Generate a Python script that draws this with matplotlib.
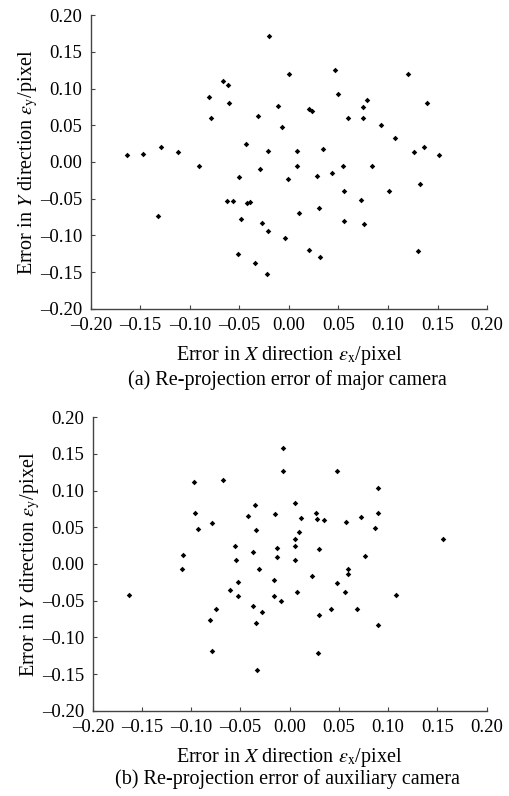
import matplotlib
matplotlib.use("Agg")
import matplotlib.pyplot as plt
from matplotlib.ticker import FuncFormatter, MultipleLocator

plt.rcParams['font.family'] = ['Liberation Serif', 'DejaVu Serif']
plt.rcParams['mathtext.fontset'] = 'stix'

# (a) major camera re-projection error
major_x = [-0.163, -0.147, -0.129, -0.112, -0.091, -0.081, -0.079, -0.067, -0.061, -0.060,
           -0.043, -0.031, -0.029, -0.021, -0.020, -0.011, -0.007, 0.000, 0.047, 0.0495,
           0.020, 0.023, 0.060, 0.075, 0.079, 0.075, 0.093, 0.107, 0.120, 0.139,
           0.008, 0.034, 0.126, 0.136, 0.151, 0.008, 0.055, 0.084, -0.001, 0.028,
           0.0435, 0.132, 0.056, 0.101, 0.0726, 0.010, 0.030, 0.056, 0.076, -0.004,
           0.020, 0.031, 0.130, -0.132, -0.050, -0.062, -0.056, -0.0425, -0.039, -0.048,
           -0.027, -0.021, -0.051, -0.034, -0.022]
major_y = [0.010, 0.011, 0.021, 0.013, -0.005, 0.089, 0.060, 0.110, 0.105, 0.080,
           0.025, 0.062, -0.009, 0.015, 0.171, 0.076, 0.047, 0.120, 0.125, 0.093,
           0.072, 0.069, 0.060, 0.075, 0.085, 0.060, 0.051, 0.032, 0.120, 0.080,
           0.015, 0.018, 0.013, 0.020, 0.010, -0.005, -0.005, -0.005, -0.023, -0.019,
           -0.0145, -0.030, -0.040, -0.040, -0.052, -0.070, -0.063, -0.080, -0.085, -0.104,
           -0.120, -0.130, -0.121, -0.073, -0.020, -0.053, -0.053, -0.056, -0.055, -0.078,
           -0.083, -0.094, -0.125, -0.138, -0.152]

# (b) auxiliary camera re-projection error
aux_x = [-0.097, -0.0675, -0.096, -0.093, -0.079, -0.108, -0.035, -0.042, -0.034, -0.056,
         -0.037, -0.0546, -0.0147, -0.0124, -0.0124, -0.0066, -0.0066, 0.048, 0.0895, 0.0056,
         0.012, 0.027, 0.0276, 0.035, 0.057, 0.072, 0.0895, 0.087, 0.156, 0.0093,
         0.0056, 0.0056, 0.030, 0.0056, 0.077, 0.0597, 0.0597, -0.0157, 0.0228, 0.048,
         -0.0157, -0.0093, 0.0079, 0.0563, 0.108, 0.042, 0.068, 0.0296, 0.0895, 0.0286,
         -0.109, -0.163, -0.0307, -0.0526, -0.061, -0.0526, -0.075, -0.0814, -0.037, -0.0286,
         -0.034, -0.0787, -0.033]
aux_y = [0.112, 0.1145, 0.070, 0.048, 0.0555, 0.012, 0.080, 0.065, 0.046, 0.025,
         0.0165, 0.006, 0.068, 0.022, 0.0098, 0.158, 0.126, 0.126, 0.104, 0.083,
         0.062, 0.069, 0.061, 0.0595, 0.0565, 0.0646, 0.0696, 0.049, 0.034, 0.043,
         0.034, 0.025, 0.021, 0.006, 0.0106, -0.0065, -0.0139, -0.022, -0.016, -0.0256,
         -0.044, -0.051, -0.038, -0.038, -0.042, -0.062, -0.062, -0.070, -0.0836, -0.121,
         -0.007, -0.042, -0.007, -0.024, -0.035, -0.044, -0.061, -0.076, -0.057, -0.0655,
         -0.081, -0.119, -0.144]

captions = ["(a) Re-projection error of major camera",
            "(b) Re-projection error of auxiliary camera"]


def fmt(v, pos):
    s = f"{abs(v):.2f}"
    return "\u2013" + s if v < -1e-9 else s


fig = plt.figure(figsize=(5.10, 7.96), dpi=100)
ax1 = fig.add_axes([0.178, 0.612, 0.777, 0.369])
ax2 = fig.add_axes([0.182, 0.107, 0.772, 0.369])

for ax, xs, ys, cap, cap_y in [(ax1, major_x, major_y, captions[0], 0.522),
                               (ax2, aux_x, aux_y, captions[1], 0.021)]:
    ax.scatter(xs, ys, marker='D', s=8, color='black', linewidths=0)
    ax.set_xlim(-0.2, 0.2)
    ax.set_ylim(-0.2, 0.2)
    ax.xaxis.set_major_locator(MultipleLocator(0.05))
    ax.yaxis.set_major_locator(MultipleLocator(0.05))
    ax.xaxis.set_major_formatter(FuncFormatter(fmt))
    ax.yaxis.set_major_formatter(FuncFormatter(fmt))
    for side in ['top', 'right']:
        ax.spines[side].set_visible(False)
    for side in ['left', 'bottom']:
        ax.spines[side].set_color('#444444')
        ax.spines[side].set_linewidth(1.0)
    ax.tick_params(direction='in', length=3, color='#444444', labelsize=13.5)
    ax.tick_params(axis='x', pad=6)
    ax.tick_params(axis='y', pad=6)
    ax.set_xlabel(r"Error in $\mathit{X}$ direction $\varepsilon_{\rm x}$/pixel",
                  fontsize=14.5, labelpad=7)
    ax.set_ylabel(r"Error in $\mathit{Y}$ direction $\varepsilon_{\rm y}$/pixel",
                  fontsize=14.5, labelpad=0)
    fig.text(0.564, cap_y, cap, ha='center', va='center', fontsize=14.5)

fig.savefig("out.png", dpi=100)
